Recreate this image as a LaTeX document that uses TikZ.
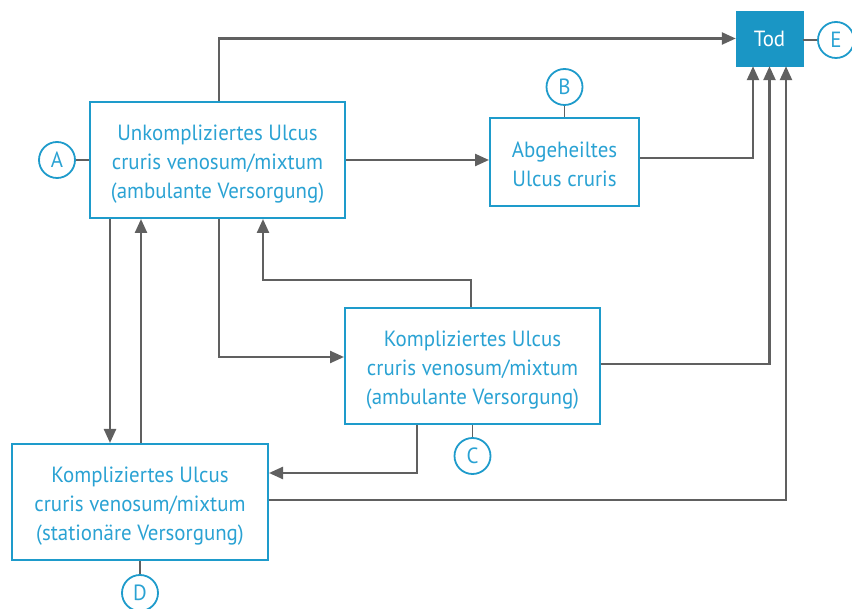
\documentclass[tikz,border=0pt]{standalone}
\usepackage{fontspec}
\setmainfont{PT Sans}[FakeStretch=0.95]
\usetikzlibrary{arrows.meta}
\definecolor{bblue}{HTML}{1E9BCB}
\definecolor{tblue}{HTML}{2AA2D3}
\definecolor{todfill}{HTML}{1A96C5}
\definecolor{lgray}{HTML}{606060}
\tikzset{
  box/.style={draw=bblue, line width=2pt, inner sep=0pt},
  boxtext/.style={text=tblue, align=center, inner sep=0pt, font=\fontsize{22}{29}\selectfont},
  circ/.style={circle, draw=bblue, line width=1.8pt, text=tblue, minimum size=36pt, inner sep=0pt,
    font=\fontsize{22}{24}\selectfont},
  arr/.style={draw=lgray, line width=2.4pt, -{Triangle[length=14pt,width=12pt]}},
  tick/.style={draw=lgray, line width=1.6pt}
}
\begin{document}
\begin{tikzpicture}[x=1pt,y=-1pt]
\useasboundingbox (0,0) rectangle (852,609);
\clip (0,0) rectangle (852,609);
\node[box, minimum width=255pt, minimum height=116pt,
  label={[boxtext, yshift=-4pt]center:{Unkompliziertes Ulcus\\cruris venosum/mixtum\\(ambulante Versorgung)}}] (a) at (217.5,160) {};
\node[box, minimum width=149pt, minimum height=88pt,
  label={[boxtext, yshift=-2.5pt]center:{Abgeheiltes\\Ulcus cruris}}] (b) at (564.5,162) {};
\node[box, minimum width=255pt, minimum height=116pt,
  label={[boxtext, yshift=-4pt]center:{Kompliziertes Ulcus\\cruris venosum/mixtum\\(ambulante Versorgung)}}] (c) at (472.5,366) {};
\node[box, minimum width=256pt, minimum height=116pt,
  label={[boxtext, yshift=-4pt]center:{Kompliziertes Ulcus\\cruris venosum/mixtum\\(stationäre Versorgung)}}] (d) at (140,502) {};
\node[fill=todfill, draw=todfill, minimum width=67pt, minimum height=55pt, inner sep=0pt, text=white,
  font=\fontsize{22}{24}\selectfont] (tod) at (769.5,38.5) {Tod};

\node[circ] (ca) at (57,160) {A};
\node[circ] (cb) at (564.5,87) {B};
\node[circ] (cc) at (472.5,456) {C};
\node[circ] (cd) at (140,593) {D};
\node[circ] (ce) at (836,40) {E};

\draw[tick] (ca.east) -- (ca.east -| a.west);
\draw[tick] (cb.south) -- (cb.south |- b.north);
\draw[tick] (cc.north) -- (cc.north |- c.south);
\draw[tick] (cd.north) -- (cd.north |- d.south);
\draw[tick] (ce.west) -- (ce.west -| tod.east);

% A -> Tod
\draw[arr] ([xshift=1.5pt]a.north) |- (tod.west);
% A -> B
\draw[arr] (a.east) -- (a.east -| b.west);
% B -> Tod
\draw[arr] ([yshift=4pt]b.east) -| ([xshift=-16.5pt]tod.south);
% C -> Tod
\draw[arr] ([yshift=2pt]c.east) -| (tod.south);
% D -> Tod
\draw[arr] ([yshift=2pt]d.east) -| ([xshift=16.5pt]tod.south);
% A -> C
\draw[arr] ([xshift=1.5pt]a.south) |- ([yshift=9pt]c.west);
% C -> A
\draw[arr] ([xshift=-1.5pt]c.north) -- ++(0,-27) -| ([xshift=45.5pt]a.south);
% C -> D
\draw[arr] ([xshift=-55.5pt]c.south) |- ([yshift=29pt]d.east);
% A -> D
\draw[arr] ([xshift=-107.5pt]a.south) -- ([xshift=-107.5pt]a.south |- d.north);
% D -> A
\draw[arr] ([xshift=1pt]d.north) -- ([xshift=1pt]d.north |- a.south);
\end{tikzpicture}
\end{document}
